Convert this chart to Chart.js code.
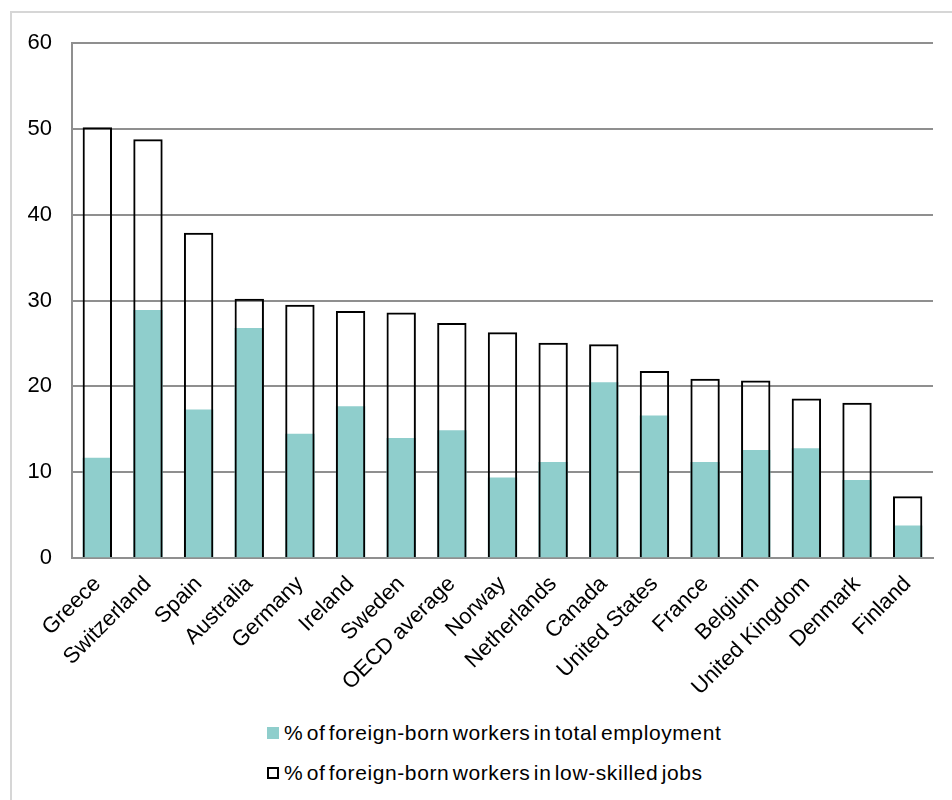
<!DOCTYPE html>
<html>
<head>
<meta charset="utf-8">
<script src="https://cdn.jsdelivr.net/npm/chart.js@4"></script>
<style>
  body { margin: 0; background: #fff; font-family: "Liberation Sans", Arial, sans-serif; }
  #frame {
    position: absolute; left: 10px; top: 11px; width: 960px; height: 820px;
    border: 2px solid #d6d6d6; box-sizing: border-box;
  }
  #wrap { position: absolute; left: 12px; top: 13px; width: 930px; height: 700px; }
  #legend {
    position: absolute; left: 267px; top: 719px; font-size: 21px; color: #000;
    letter-spacing: 0.6px; word-spacing: -3px;
  }
  .item { display: flex; align-items: center; height: 28px; margin-bottom: 12px; }
  .box { width: 12px; height: 12px; margin-right: 5px; box-sizing: border-box; }
</style>
</head>
<body>
<div id="frame"></div>
<div id="wrap"><canvas id="chartForeign"></canvas></div>
<div id="legend"></div>
<script>
const countries = ['Greece', 'Switzerland', 'Spain', 'Australia', 'Germany', 'Ireland', 'Sweden',
  'OECD average', 'Norway', 'Netherlands', 'Canada', 'United States', 'France', 'Belgium',
  'United Kingdom', 'Denmark', 'Finland'];
const totalEmployment = [11.7, 28.9, 17.3, 26.8, 14.5, 17.7, 14.0, 14.9, 9.4, 11.2, 20.5, 16.6, 11.2, 12.6, 12.8, 9.1, 3.8];
const lowSkilled = [50.2, 48.8, 37.9, 30.2, 29.5, 28.8, 28.6, 27.4, 26.3, 25.1, 24.9, 21.8, 20.9, 20.7, 18.6, 18.1, 7.2];
const yTicks = [0, 10, 20, 30, 40, 50, 60];

const teal = '#8fcecc';
const tickFont = { family: '"Liberation Sans", Arial, sans-serif', size: 22 };

const ctxForeign = document.getElementById('chartForeign').getContext('2d');
const chartForeign = new Chart(ctxForeign, {
    type: 'bar',
    data: {
        labels: countries,
        datasets: [{
            label: '% of foreign-born workers in total employment',
            data: totalEmployment,
            backgroundColor: teal,
            borderWidth: 0,
            grouped: false,
            order: 1
        }, {
            label: '% of foreign-born workers in low-skilled jobs',
            data: lowSkilled,
            backgroundColor: 'rgba(255, 255, 255, 0)',
            borderColor: '#000',
            borderWidth: 2,
            grouped: false,
            order: 0
        }]
    },
    options: {
        responsive: true,
        maintainAspectRatio: false,
        animation: false,
        categoryPercentage: 1,
        barPercentage: 0.58,
        layout: { padding: { top: 0, right: 9, bottom: 7.5, left: 0 } },
        plugins: {
            legend: { display: false },
            tooltip: { enabled: false }
        },
        scales: {
            x: {
                // rotated first label may hang past the y axis
                afterFit: scale => { scale.paddingLeft = 0; },
                grid: { display: false },
                border: { display: true, color: '#8f8f8f', width: 2 },
                ticks: { color: '#000', font: tickFont, minRotation: 45, maxRotation: 45, padding: 5 }
            },
            y: {
                min: 0,
                max: 60,
                afterBuildTicks: axis => { axis.ticks = yTicks.map(v => ({ value: v })); },
                afterFit: scale => { scale.width = 60; scale.paddingTop = 30; },
                grid: { color: '#8f8f8f', lineWidth: 2, drawTicks: false },
                border: { display: true, color: '#8f8f8f', width: 2 },
                ticks: { color: '#000', font: tickFont, padding: 20 }
            }
        }
    }
});

// legend below the chart, one item per line
const legendEl = document.getElementById('legend');
chartForeign.data.datasets.forEach(ds => {
    const item = document.createElement('div');
    item.className = 'item';
    const box = document.createElement('span');
    box.className = 'box';
    if (ds.borderWidth) {
        box.style.border = '2px solid #000';
        box.style.background = '#fff';
    } else {
        box.style.background = ds.backgroundColor;
    }
    const text = document.createElement('span');
    text.textContent = ds.label;
    item.appendChild(box);
    item.appendChild(text);
    legendEl.appendChild(item);
});
</script>
</body>
</html>
